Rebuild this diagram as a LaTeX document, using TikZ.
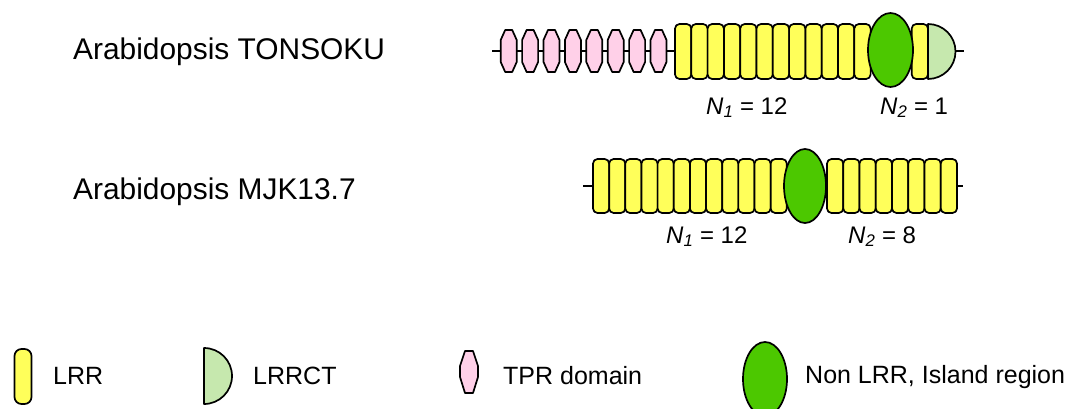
\documentclass[tikz,border=0pt]{standalone}
\usepackage{fontspec}
\setmainfont{Liberation Sans}
\definecolor{lrryellow}{RGB}{255,255,90}
\definecolor{tprpink}{RGB}{255,208,232}
\definecolor{islandgreen}{RGB}{76,200,0}
\definecolor{ctgreen}{RGB}{198,232,174}
\begin{document}
\begin{tikzpicture}[x=1pt,y=-1pt,
  outline/.style={draw=black, line width=1.7pt, line join=round},
  lrr/.style={outline, fill=lrryellow, rounded corners=4.5pt},
  tpr/.style={outline, fill=tprpink},
  island/.style={outline, fill=islandgreen},
  lrrct/.style={outline, fill=ctgreen},
  chain/.style={draw=black, line width=1.9pt},
  title/.style={anchor=base west, inner sep=0pt, font=\fontsize{29.9}{34}\selectfont},
  count/.style={anchor=base west, inner sep=0pt, font=\fontsize{24}{28}\selectfont},
  key/.style={anchor=base west, inner sep=0pt, font=\fontsize{25}{30}\selectfont}]

\clip (0,0) rectangle (1070,409);
\fill[white] (0,0) rectangle (1070,409);

% ---------- TONSOKU ----------
\node[title] (ton-name) at (73,59.3) {Arabidopsis TONSOKU};
\coordinate (ton-start) at (492,51);
\coordinate (ton-end) at (964,51);
\draw[chain] (ton-start) -- (ton-end);
% TPR repeats
\foreach \i in {0,...,7} {
  \pgfmathsetmacro\cx{508.7+21.4*\i}
  \draw[tpr] (\cx-3.5,30) -- (\cx+3.5,30) -- (\cx+8,40) -- (\cx+8,62)
    -- (\cx+3.5,72) -- (\cx-3.5,72) -- (\cx-8,62) -- (\cx-8,40) -- cycle;
}
% LRR repeats before the island
\foreach \i in {0,...,11}
  \draw[lrr] ({675+16.3*\i},24) rectangle ++(16.3,55);
% LRR repeat after the island
\draw[lrr] (911.7,24) rectangle ++(16.3,55);
% island region
\draw[island] (890.5,50) ellipse [x radius=22.5, y radius=37];
% LRRCT cap
\draw[lrrct] (928,24) arc[start angle=-90, end angle=90, radius=27.5] -- cycle;
\node[count] (ton-n1) at (706,114) {\textit{N}\textsubscript{\textit{1}} = 12};
\node[count] (ton-n2) at (880,114) {\textit{N}\textsubscript{\textit{2}} = 1};

% ---------- MJK13.7 ----------
\node[title] (mjk-name) at (73,199) {Arabidopsis MJK13.7};
\coordinate (mjk-start) at (583,186);
\coordinate (mjk-end) at (963,186);
\draw[chain] (mjk-start) -- (mjk-end);
\foreach \i in {0,...,11}
  \draw[lrr] ({593+16.15*\i},159) rectangle ++(16.15,54);
\foreach \i in {0,...,7}
  \draw[lrr] ({827+16.25*\i},159) rectangle ++(16.25,54);
\draw[island] (805,186) ellipse [x radius=21, y radius=37];
\node[count] (mjk-n1) at (666,243) {\textit{N}\textsubscript{\textit{1}} = 12};
\node[count] (mjk-n2) at (848,243) {\textit{N}\textsubscript{\textit{2}} = 8};

% ---------- legend ----------
\draw[lrr, rounded corners=7pt] (14.5,349) rectangle (31.5,404);
\node[key] (key-lrr) at (53,384) {LRR};
\draw[lrrct] (204,348) arc[start angle=-90, end angle=90, radius=28] -- cycle;
\node[key] (key-lrrct) at (253,384) {LRRCT};
\draw[tpr] (465,351) -- (473,351) -- (478,366) -- (478,377)
  -- (473,393) -- (465,393) -- (460,377) -- (460,366) -- cycle;
\node[key] (key-tpr) at (503,384) {TPR domain};
\draw[island] (765,379) ellipse [x radius=22, y radius=37];
\node[key] (key-island) at (805,383) {Non LRR, Island region};
\end{tikzpicture}
\end{document}
